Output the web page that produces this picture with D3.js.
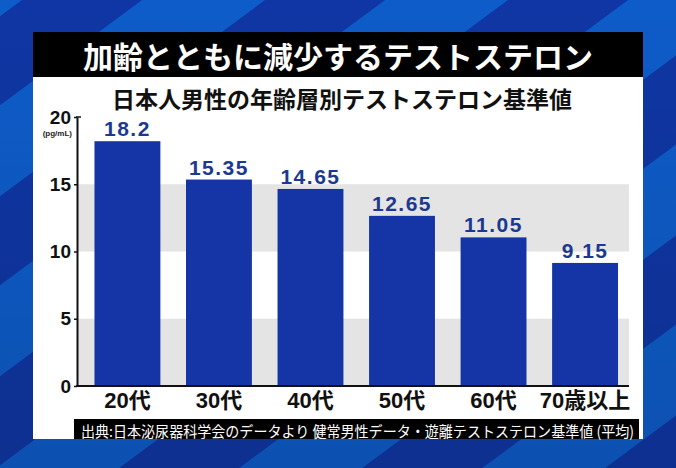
<!DOCTYPE html>
<html>
<head>
<meta charset="utf-8">
<script src="https://cdn.jsdelivr.net/npm/d3@7"></script>
<style>
  body { margin: 0; background: #0e5cc9; }
  svg { display: block; }
</style>
</head>
<body>
<svg id="chart"></svg>
<script>
// data
var ageGroups = ["20代", "30代", "40代", "50代", "60代", "70歳以上"];
var testosterone = [18.2, 15.35, 14.65, 12.65, 11.05, 9.15];
var valueLabels = ["18.2", "15.35", "14.65", "12.65", "11.05", "9.15"];
var yTicks = [0, 5, 10, 15, 20];
var greyBands = [[10, 15], [0, 5]];   // shaded rows behind the bars

var titleText = "加齢とともに減少するテストステロン";
var subTitle = "日本人男性の年齢層別テストステロン基準値";
var unitText = "(pg/mL)";
var sourceText = "出典:日本泌尿器科学会のデータより 健常男性データ・遊離テストステロン基準値 (平均)";

var width = 676, height = 468;

var svg = d3.select("#chart")
    .attr("width", width)
    .attr("height", height);

// diagonal stripes in background
var k = 1.35, period = 243, c0 = 22, stripeW = 120;
svg.append("rect").attr("width", width).attr("height", height).attr("fill", "#0e5cc9");
var stripes = d3.range(-1, 8).map(n => c0 + n * period);
svg.append("g").selectAll("polygon")
  .data(stripes)
  .enter().append("polygon")
    .attr("fill", "#0f36a4")
    .attr("points", function(c){
      var y1 = -10, y2 = height + 10;
      return [[c - k*y1, y1], [c + stripeW - k*y1, y1], [c + stripeW - k*y2, y2], [c - k*y2, y2]].join(" ");
    });

// darken toward the bottom a bit
var grad = svg.append("defs").append("linearGradient")
    .attr("id", "shade").attr("x1", 0).attr("y1", 0).attr("x2", 0).attr("y2", 1);
grad.append("stop").attr("offset", "0%").attr("stop-color", "#000").attr("stop-opacity", 0);
grad.append("stop").attr("offset", "100%").attr("stop-color", "#000").attr("stop-opacity", 0.12);
svg.append("rect").attr("width", width).attr("height", height).attr("fill", "url(#shade)");

// panel + title bar
svg.append("rect").attr("x", 33).attr("y", 77).attr("width", 610).attr("height", 362).attr("fill", "#fff");
svg.append("rect").attr("x", 33).attr("y", 32).attr("width", 610).attr("height", 45).attr("fill", "#000");

svg.append("text")
    .attr("x", 338).attr("y", 55)
    .attr("text-anchor", "middle")
    .attr("dominant-baseline", "central")
    .attr("fill", "#fff")
    .style("font-family", "'Noto Sans CJK JP', sans-serif")
    .style("font-weight", 700)
    .style("font-size", "30px")
    .text(titleText);

svg.append("text")
    .attr("x", 342).attr("y", 98)
    .attr("text-anchor", "middle")
    .attr("dominant-baseline", "central")
    .attr("fill", "#111")
    .style("font-family", "'Noto Sans CJK JP', sans-serif")
    .style("font-weight", 700)
    .style("font-size", "23px")
    .text(subTitle);

// scales
var x = d3.scaleBand()
    .domain(ageGroups)
    .range([78, 629])
    .paddingInner(0.28)
    .paddingOuter(0.15)
    .align(0.6);

var y = d3.scaleLinear()
    .domain([0, 20])
    .range([386, 117]);

// grey rows
svg.append("g").selectAll("rect")
  .data(greyBands)
  .enter().append("rect")
    .attr("x", 78)
    .attr("width", 629 - 78)
    .attr("y", d => y(d[1]))
    .attr("height", d => y(d[0]) - y(d[1]))
    .attr("fill", "#e4e4e4");

// bars
svg.append("g").selectAll("rect")
  .data(testosterone)
  .enter().append("rect")
    .attr("x", (d, i) => x(ageGroups[i]))
    .attr("width", x.bandwidth())
    .attr("y", d => y(d))
    .attr("height", d => y(0) - y(d))
    .attr("fill", "#1535a6");

// value labels
svg.append("g").selectAll("text")
  .data(testosterone)
  .enter().append("text")
    .attr("x", (d, i) => x(ageGroups[i]) + x.bandwidth()/2)
    .attr("y", d => y(d) - 5)
    .attr("text-anchor", "middle")
    .attr("fill", "#1c3990")
    .style("font-family", "'Liberation Sans', Arial, sans-serif")
    .style("font-weight", 700)
    .style("font-size", "21px")
    .style("letter-spacing", "1.5px")
    .text((d, i) => valueLabels[i]);

// y axis
var yAxis = d3.axisLeft(y)
    .tickValues(yTicks)
    .tickSize(3)
    .tickSizeOuter(0)
    .tickPadding(3);

var yg = svg.append("g")
    .attr("transform", "translate(77,0)")
    .call(yAxis);
yg.select(".domain").attr("stroke", "#111").attr("stroke-width", 2);
yg.selectAll(".tick line").attr("stroke", "#111").attr("stroke-width", 1.5);
yg.selectAll(".tick text")
    .attr("fill", "#111")
    .style("font-family", "'Liberation Sans', Arial, sans-serif")
    .style("font-weight", 700)
    .style("font-size", "19px");

// little cap at the top of the axis
svg.append("line")
    .attr("x1", 76).attr("x2", 81)
    .attr("y1", y(20)).attr("y2", y(20))
    .attr("stroke", "#111").attr("stroke-width", 1.5);

svg.append("text")
    .attr("x", 72).attr("y", 136)
    .attr("text-anchor", "end")
    .attr("fill", "#222")
    .style("font-family", "'Liberation Sans', Arial, sans-serif")
    .style("font-weight", 700)
    .style("font-size", "8px")
    .text(unitText);

// baseline
svg.append("line")
    .attr("x1", 76).attr("x2", 629)
    .attr("y1", y(0)).attr("y2", y(0))
    .attr("stroke", "#111").attr("stroke-width", 2);

// x labels
svg.append("g").selectAll("text")
  .data(ageGroups)
  .enter().append("text")
    .attr("x", d => x(d) + x.bandwidth()/2)
    .attr("y", 408)
    .attr("text-anchor", "middle")
    .attr("fill", "#111")
    .style("font-family", "'Liberation Sans', 'Noto Sans CJK JP', sans-serif")
    .style("font-weight", 700)
    .style("font-size", "22px")
    .text(d => d);

// source caption
svg.append("rect").attr("x", 74).attr("y", 419).attr("width", 565).attr("height", 20).attr("fill", "#000");
svg.append("text")
    .attr("x", 81).attr("y", 430)
    .attr("dominant-baseline", "central")
    .attr("fill", "#fff")
    .attr("textLength", 553)
    .attr("lengthAdjust", "spacingAndGlyphs")
    .style("font-family", "'Noto Sans CJK JP', sans-serif")
    .style("font-weight", 400)
    .style("font-size", "15px")
    .text(sourceText);
</script>
</body>
</html>
